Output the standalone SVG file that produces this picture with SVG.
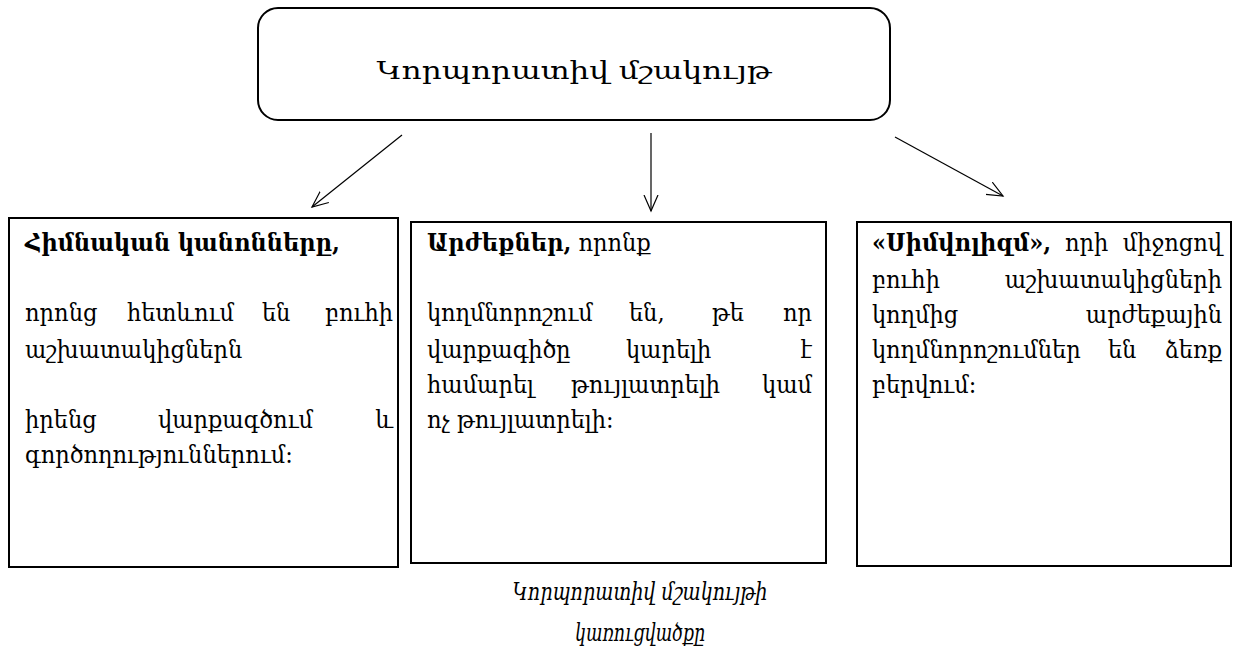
<svg xmlns="http://www.w3.org/2000/svg" width="1239" height="657" viewBox="0 0 1239 657">
<style>
.t{font-family:"DejaVu Serif Condensed","DejaVu Serif","DejaVu Sans",serif;font-size:25px;fill:#000}
.b{font-weight:bold}
.i{font-style:italic}
.box{fill:#fff;stroke:#000;stroke-width:2}
.c{stroke:#000;stroke-width:1.2;fill:none}
.e{text-anchor:end}
.m{text-anchor:middle}
</style>
<defs>
<marker id="ah" markerWidth="20" markerHeight="20" refX="16" refY="8" orient="auto" markerUnits="userSpaceOnUse">
<path d="M0,1 L16,8 L0,15" fill="none" stroke="#000" stroke-width="1.2"/>
</marker>
</defs>
<rect width="1239" height="657" fill="#fff"/>
<g id="connectors">
<line class="c" x1="402" y1="135" x2="312" y2="207" marker-end="url(#ah)"/>
<line class="c" x1="651" y1="133" x2="651" y2="211" marker-end="url(#ah)"/>
<line class="c" x1="895" y1="137" x2="1003" y2="196" marker-end="url(#ah)"/>
</g>
<g id="top">
<rect class="box" x="258" y="8" width="632" height="112" rx="20" ry="20" stroke-width="2.5"/>
<text class="t m" x="574" y="79" font-size="30" textLength="395" lengthAdjust="spacingAndGlyphs">Կորպորատիվ մշակույթ</text>
</g>
<g id="left">
<rect class="box" x="9" y="218" width="389" height="349"/>
<text class="t b" x="25" y="251">Հիմնական կանոնները,</text>
<text class="t" y="321"><tspan x="25">որոնց</tspan><tspan x="127">հետևում</tspan><tspan x="262">են</tspan></text>
<text class="t e" x="393" y="321">բուհի</text>
<text class="t" x="25" y="358">աշխատակիցներն</text>
<text class="t" y="428"><tspan x="25">իրենց</tspan><tspan x="158">վարքագծում</tspan></text>
<text class="t e" x="393" y="428">և</text>
<text class="t" x="25" y="463">գործողություններում:</text>
</g>
<g id="middle">
<rect class="box" x="411" y="222" width="415" height="341"/>
<text class="t" x="427" y="251"><tspan class="b">Արժեքներ,</tspan> որոնք</text>
<text class="t" y="321"><tspan x="427">կողմնորոշում</tspan><tspan x="629">են,</tspan><tspan x="712">թե</tspan></text>
<text class="t e" x="812" y="321">որ</text>
<text class="t" y="358"><tspan x="427">վարքագիծը</tspan><tspan x="626">կարելի</tspan></text>
<text class="t e" x="812" y="358">է</text>
<text class="t" y="393"><tspan x="427">համարել</tspan><tspan x="571">թույլատրելի</tspan></text>
<text class="t e" x="812" y="393">կամ</text>
<text class="t" x="427" y="428">ոչ թույլատրելի:</text>
</g>
<g id="right">
<rect class="box" x="857" y="222" width="374" height="344"/>
<text class="t" y="251"><tspan class="b" x="872">«Սիմվոլիզմ»,</tspan><tspan x="1065">որի</tspan></text>
<text class="t e" x="1222" y="251">միջոցով</text>
<text class="t" x="872" y="288">բուհի</text>
<text class="t e" x="1222" y="288">աշխատակիցների</text>
<text class="t" x="872" y="323">կողմից</text>
<text class="t e" x="1222" y="323">արժեքային</text>
<text class="t" y="358"><tspan x="872">կողմնորոշումներ</tspan><tspan x="1108">են</tspan></text>
<text class="t e" x="1222" y="358">ձեռք</text>
<text class="t" x="872" y="393">բերվում:</text>
</g>
<g id="caption">
<text class="t i m" x="640" y="600" font-size="27" textLength="255" lengthAdjust="spacingAndGlyphs">Կորպորատիվ մշակույթի</text>
<text class="t i m" x="640" y="641" font-size="27" textLength="130" lengthAdjust="spacingAndGlyphs">կառուցվածքը</text>
</g>
</svg>
